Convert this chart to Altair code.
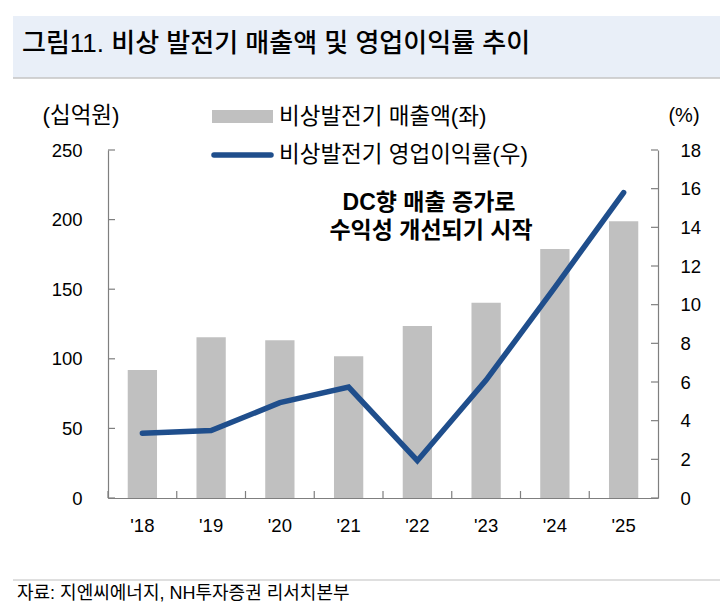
import altair as alt
import pandas as pd

# ---- data ----
years = ["'18", "'19", "'20", "'21", "'22", "'23", "'24", "'25"]
revenue = [92.0, 115.4, 113.4, 101.9, 123.6, 140.3, 178.8, 198.9]   # 십억원 (left)
margin = [3.35, 3.49, 4.93, 5.74, 1.93, 6.1, 10.9, 15.8]            # % (right)
left_ticks = [0, 50, 100, 150, 200, 250]
right_ticks = [0, 2, 4, 6, 8, 10, 12, 14, 16, 18]

title_text = "그림11. 비상 발전기 매출액 및 영업이익률 추이"
legend_bar = "비상발전기 매출액(좌)"
legend_line = "비상발전기 영업이익률(우)"
note_1 = "DC향 매출 증가로"
note_2 = "수익성 개선되기 시작"
left_unit = "(십억원)"
right_unit = "(%)"
source_text = "자료: 지엔씨에너지, NH투자증권 리서치본부"

df = pd.DataFrame({"year": years, "revenue": revenue, "margin": margin})
df_lt = pd.DataFrame({"v": left_ticks})
df_rt = pd.DataFrame({"v": right_ticks})
one = pd.DataFrame({"a": [0]})

W, H = 550, 348
FONT = "Liberation Sans, Noto Sans CJK KR"
BAR_C = "#c0c0c0"
LINE_C = "#1f4e8c"
AX_C = "#7f7f7f"

xscale = alt.Scale(paddingInner=0, paddingOuter=0)
x_axis = alt.Axis(title=None, labelAngle=0, ticks=False, tickSize=0,
                  labelPadding=18, domainColor=AX_C, domainWidth=1.2,
                  labelFontSize=18.5, labelFont=FONT, labelColor="#000")
yl_scale = alt.Scale(domain=[0, 250], nice=False)
yl_axis = alt.Axis(title=None, values=left_ticks, ticks=False, tickSize=0,
                   labelPadding=26, domainColor=AX_C, domainWidth=1.2,
                   grid=False, labelFontSize=18.5, labelFont=FONT, labelColor="#000")
yr_scale = alt.Scale(domain=[0, 18], nice=False)
yr_axis = alt.Axis(title=None, orient="right", values=right_ticks, ticks=False,
                   tickSize=0, labelPadding=22, domainColor=AX_C,
                   domainWidth=1.2, grid=False, labelFontSize=18.5,
                   labelFont=FONT, labelColor="#000")

bars = alt.Chart(df).mark_bar(color=BAR_C, width=alt.RelativeBandSize(0.426)).encode(
    x=alt.X("year:N", sort=years, scale=xscale, axis=x_axis),
    y=alt.Y("revenue:Q", scale=yl_scale, axis=yl_axis),
)
lticks = alt.Chart(df_lt).mark_rule(color=AX_C, strokeWidth=1.2).encode(
    y=alt.Y("v:Q", scale=yl_scale, axis=yl_axis), x=alt.value(0), x2=alt.value(7))
bticks = alt.Chart(df).mark_rule(color=AX_C, strokeWidth=1.2).encode(
    x=alt.X("year:N", sort=years, bandPosition=0, scale=xscale, axis=x_axis),
    y=alt.value(H - 7), y2=alt.value(H))
left_group = alt.layer(bars, lticks, bticks)

line = alt.Chart(df).mark_line(color=LINE_C, strokeWidth=5.5, strokeCap="round").encode(
    x=alt.X("year:N", sort=years, scale=xscale, axis=x_axis),
    y=alt.Y("margin:Q", scale=yr_scale, axis=yr_axis),
)
rticks = alt.Chart(df_rt).mark_rule(color=AX_C, strokeWidth=1.2).encode(
    y=alt.Y("v:Q", scale=yr_scale, axis=yr_axis), x=alt.value(W - 7), x2=alt.value(W))
right_group = alt.layer(line, rticks)


def txt(x, y, s, size=20, weight="normal", align="left", baseline="middle"):
    return alt.Chart(one).mark_text(text=s, font=FONT, fontSize=size, fontWeight=weight,
                                    align=align, baseline=baseline, color="#000").encode(
        x=alt.value(x), y=alt.value(y))


band = alt.Chart(one).mark_rect(color="#e9eff8").encode(
    x=alt.value(-95), x2=alt.value(630), y=alt.value(-134), y2=alt.value(-72))
band_line = alt.Chart(one).mark_rule(color="#c4c4c4", strokeWidth=1.5).encode(
    x=alt.value(-95), x2=alt.value(630), y=alt.value(-72))
src_line = alt.Chart(one).mark_rule(color="#d4d4d4", strokeWidth=1.5).encode(
    x=alt.value(-95), x2=alt.value(630), y=alt.value(430))
leg_rect = alt.Chart(one).mark_rect(color=BAR_C).encode(
    x=alt.value(104), x2=alt.value(165), y=alt.value(-40), y2=alt.value(-27))
leg_line = alt.Chart(one).mark_rule(color=LINE_C, strokeWidth=5.5, strokeCap="round").encode(
    x=alt.value(106), x2=alt.value(163), y=alt.value(5))

chart = alt.layer(
    band, band_line, src_line,
    alt.layer(left_group, right_group).resolve_scale(y="independent"),
    leg_rect, leg_line,
    txt(-86, -106, title_text, size=26, weight=500),
    txt(171, -33, legend_bar, size=22.5),
    txt(171, 5, legend_line, size=22.5),
    txt(-27, -34, left_unit, size=22.5, align="center"),
    txt(576, -34, right_unit, size=20, align="center"),
    txt(321, 53, note_1, size=23, weight="bold", align="center"),
    txt(323, 81, note_2, size=23, weight="bold", align="center"),
    txt(-91, 444, source_text, size=18),
).properties(
    width=W, height=H,
    autosize=alt.AutoSizeParams(type="none"),
    padding={"left": 100, "top": 142, "right": 62, "bottom": 106},
).configure_view(stroke=None)

chart.save("out.html", embed_options={"renderer": "svg", "actions": False})
